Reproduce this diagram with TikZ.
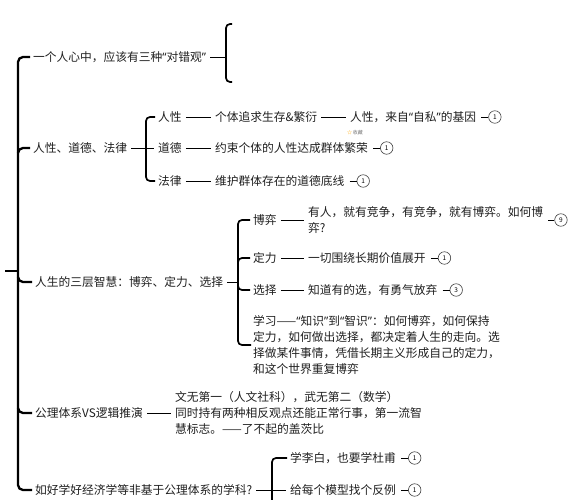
\documentclass[tikz,border=0pt]{standalone}
\usepackage{fontspec}
\setmainfont{Noto Sans CJK SC}
\newfontfamily\latinq{Noto Sans}
\newcommand\qo{{\latinq “}}
\newcommand\qc{{\latinq ”}}
\usetikzlibrary{positioning,calc}

\begin{document}
\begin{tikzpicture}[
  x=1pt, y=-1pt,
  font=\fontsize{11.75}{16.3}\selectfont,
  topic/.style={anchor=west, inner sep=0pt, align=left, text=black!88},
  spine/.style={line width=2.3pt, rounded corners=5pt},
  brace/.style={line width=1.7pt, rounded corners=4pt},
  link/.style={line width=0.9pt, shorten >=4pt, shorten <=4pt},
  badge/.style={
    circle,
    draw=black!75,
    line width=0.6pt,
    inner sep=0pt,
    minimum size=12.5pt,
    font=\fontsize{6.5}{6.5}\selectfont,
  },
]
  \clip (0,0) rectangle (574,500);
  % Main branches along the spine
  \node[topic] (b1) at (33,57)  {一个人心中，应该有三种\qo 对错观\qc};
  \node[topic] (b2) at (33,148) {人性、道德、法律};
  \node[topic] (b3) at (35,282) {人生的三层智慧：博弈、定力、选择};
  \node[topic] (b4) at (35,413) {公理体系VS逻辑推演};
  \node[topic] (b5) at (35,490) {如好学好经济学等非基于公理体系的学科?};
  \coordinate (sp) at (18,271);
  \coordinate (root) at (5,271);
  \draw[spine] (root) -- (sp);
  \draw[spine] ($(b1.west)+(-3,0)$) -| (sp) |- ($(b5.west)+(-3,0)$);
  \foreach \b/\s in {b2/5, b3/-5, b4/-5}
    {\draw[spine] ($(sp |- \b.west)+(0,\s)$) |- ($(\b.west)+(-3,0)$);}

  % Branch 1: empty bracket
  \coordinate (h1) at (226,54);
  \coordinate (e1t) at (232,24);
  \coordinate (e1b) at (232,82);
  \draw[brace] (e1t) -| (h1) |- (e1b);
  \draw[link, shorten >=0pt] (b1) -- (b1 -| h1);

  % Branch 2: human nature, morality, law
  \coordinate (h2) at (146,148);
  \node[topic] (c21) at (158,117) {人性};
  \node[topic] (c22) at (158,148) {道德};
  \node[topic] (c23) at (158,181) {法律};
  \node[topic] (g211) at (215,117) {个体追求生存\&繁衍};
  \node[topic] (g212) at (350,117) {人性，来自\qo 自私\qc 的基因};
  \node[topic] (g221) at (215,148) {约束个体的人性达成群体繁荣};
  \node[topic] (g231) at (215,181) {维护群体存在的道德底线};
  \node[badge, right=12pt of g212] (k1) {1};
  \node[badge, right=12pt of g221] (k2) {1};
  \node[badge, right=12pt of g231] (k3) {1};
  \node[inner sep=0pt, font=\fontsize{5}{5}\selectfont, text=black!55] (fav)
    at (355,133) {\textcolor{orange!70!yellow}{☆}\,收藏};
  \draw[brace] ($(c21.west)+(-3,0)$) -| (h2) |- ($(c23.west)+(-3,0)$);
  \draw[link] (b2) -- (c22);
  \foreach \u/\v in {c21/g211, g211/g212, c22/g221, c23/g231}
    {\draw[link] (\u) -- (\v);}

  % Branch 3: three layers of wisdom
  \coordinate (h3) at (238,282);
  \node[topic] (c31) at (253,220) {博弈};
  \node[topic] (c32) at (253,258) {定力};
  \node[topic] (c33) at (253,290) {选择};
  \node[topic] (c34) at (253,345)
    {学习——\qo 知识\qc 到\qo 智识\qc ：如何博弈，如何保持\\
     定力，如何做出选择，都决定着人生的走向。选\\
     择做某件事情，凭借长期主义形成自己的定力，\\
     和这个世界重复博弈};
  \node[topic] (g311) at (308,220) {有人，就有竞争，有竞争，就有博弈。如何博\\弈?};
  \node[topic] (g321) at (308,258) {一切围绕长期价值展开};
  \node[topic] (g331) at (308,290) {知道有的选，有勇气放弃};
  \node[badge, right=11pt of g311] (k4) {9};
  \node[badge, right=12pt of g321] (k5) {1};
  \node[badge, right=12pt of g331] (k6) {3};
  \draw[brace] ($(c31.west)+(-3,0)$) -| (h3) |- ($(c34.west)+(-2,0)$);
  \draw[brace] ($(h3 |- c32.west)+(0,6)$) |- ($(c32.west)+(-3,0)$);
  \draw[brace] ($(h3 |- c33.west)+(0,-6)$) |- ($(c33.west)+(-3,0)$);
  \draw[link, shorten >=0pt] (b3) -- (h3);
  \foreach \u/\v in {c31/g311, c32/g321, c33/g331}
    {\draw[link] (\u) -- (\v);}

  % Branch 4: axioms vs deduction
  \node[topic] (p41) at (175,413)
    {文无第一（人文社科），武无第二（数学）\\
     同时持有两种相反观点还能正常行事，第一流智\\
     慧标志。——了不起的盖茨比};
  \draw[link] (b4) -- (p41);

  % Branch 5: non-axiomatic subjects
  \coordinate (e5) at (272,520);
  \node[topic] (c51) at (290,458) {学李白，也要学杜甫};
  \node[topic] (c52) at (290,490) {给每个模型找个反例};
  \node[badge, right=12pt of c51] (k7) {1};
  \node[badge, right=12pt of c52] (k8) {1};
  \draw[brace] ($(c51.west)+(-3,0)$) -| (e5);
  \draw[link] (b5) -- (c52);

  % Badge ticks
  \foreach \t/\k in {g212/k1, g221/k2, g231/k3, g311/k4, g321/k5, g331/k6, c51/k7, c52/k8}
    {\draw[link, shorten <=5pt, shorten >=0pt] (\t) -- (\k);}
\end{tikzpicture}
\end{document}
